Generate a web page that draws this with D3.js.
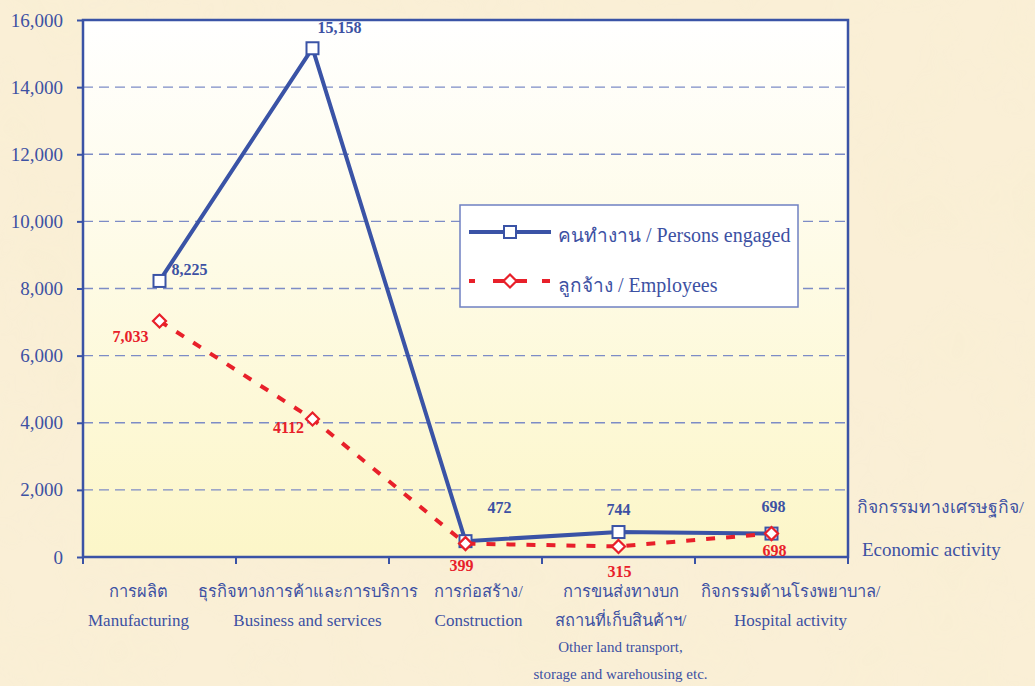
<!DOCTYPE html>
<html>
<head>
<meta charset="utf-8">
<script src="https://cdn.jsdelivr.net/npm/d3@7"></script>
<style>
  body { margin: 0; background: #f9edd3; }
  svg text { font-family: "Liberation Serif", "Times New Roman", serif; }
</style>
</head>
<body>
<div id="chart"></div>
<script>
// categories (Thai line first, then English lines)
var categories = ["Manufacturing", "Business", "Construction", "Transport", "Hospital"];
var categoryLines = [
  ["การผลิต", "Manufacturing"],
  ["ธุรกิจทางการค้าและการบริการ", "Business and services"],
  ["การก่อสร้าง/", "Construction"],
  ["การขนส่งทางบก", "สถานที่เก็บสินค้าฯ/", "Other land transport,", "storage and warehousing etc."],
  ["กิจกรรมด้านโรงพยาบาล/", "Hospital activity"]
];
var personsEngaged = [8225, 15158, 472, 744, 698];
var employees = [7033, 4112, 399, 315, 698];
var personsLabels = ["8,225", "15,158", "472", "744", "698"];
var employeesLabels = ["7,033", "4112", "399", "315", "698"];
var yTicks = [0, 2000, 4000, 6000, 8000, 10000, 12000, 14000, 16000];

// layout
var svgWidth = 1035;
var svgHeight = 686;
var margin = { top: 20, left: 83, right: 187, bottom: 129 };
var chartWidth = svgWidth - margin.left - margin.right;
var chartHeight = svgHeight - margin.top - margin.bottom;

var blue = "#3a53a6";
var red = "#e8202a";
var textBlue = "#3d51a3";
var serif = "'Liberation Serif', 'Times New Roman', serif";

// hand placed label offsets from the point
var personsOffsets = [[12, -6, "start"], [27, -15, "middle"], [34, -28, "middle"], [0, -17, "middle"], [2, -22, "middle"]];
var employeesOffsets = [[-29, 21, "middle"], [-24, 14, "middle"], [-4, 27, "middle"], [1, 31, "middle"], [3, 22, "middle"]];
var catLabelDx = [-21, -5, 13, 2, 19];

var svg = d3.select("#chart")
  .append("svg")
  .attr("width", svgWidth)
  .attr("height", svgHeight);

var defs = svg.append("defs");

// parchment texture
var filter = defs.append("filter").attr("id", "paper")
  .attr("x", 0).attr("y", 0).attr("width", "100%").attr("height", "100%");
filter.append("feTurbulence")
  .attr("type", "fractalNoise")
  .attr("baseFrequency", "0.012")
  .attr("numOctaves", 3)
  .attr("seed", 7);
filter.append("feColorMatrix")
  .attr("type", "matrix")
  .attr("values", "0 0 0 0 0.93  0 0 0 0 0.86  0 0 0 0 0.62  0 0 0 1.1 -0.45");

var grad = defs.append("linearGradient").attr("id", "plotbg")
  .attr("x1", 0).attr("y1", 0).attr("x2", 0).attr("y2", 1);
grad.append("stop").attr("offset", "0%").attr("stop-color", "#ffffff");
grad.append("stop").attr("offset", "45%").attr("stop-color", "#fefbe6");
grad.append("stop").attr("offset", "100%").attr("stop-color", "#fcf6c8");

svg.append("rect")
  .attr("width", svgWidth)
  .attr("height", svgHeight)
  .attr("fill", "#faefd6");
svg.append("rect")
  .attr("width", svgWidth)
  .attr("height", svgHeight)
  .attr("filter", "url(#paper)")
  .attr("opacity", 0.5);

var chartGroup = svg.append("g")
  .attr("transform", `translate(${margin.left}, ${margin.top})`);

// scales
var xBandScale = d3.scaleBand()
  .domain(categories)
  .range([0, chartWidth]);
var xCenter = d => xBandScale(d) + xBandScale.bandwidth() / 2;

var yLinearScale = d3.scaleLinear()
  .domain([0, 16000])
  .range([chartHeight, 0]);

// plot area
chartGroup.append("rect")
  .attr("width", chartWidth)
  .attr("height", chartHeight)
  .attr("fill", "url(#plotbg)");

// grid lines
chartGroup.selectAll(".grid")
  .data(yTicks.slice(1, -1))
  .enter().append("line")
  .attr("x1", 0)
  .attr("x2", chartWidth)
  .attr("y1", d => yLinearScale(d))
  .attr("y2", d => yLinearScale(d))
  .attr("stroke", "#7d8cc6")
  .attr("stroke-width", 1.4)
  .attr("stroke-dasharray", "10,6");

// y axis
var leftAxis = d3.axisLeft(yLinearScale)
  .tickValues(yTicks)
  .tickSize(6)
  .tickPadding(14)
  .tickFormat(d3.format(","));

var yAxisG = chartGroup.append("g").call(leftAxis)
  .attr("font-family", serif)
  .attr("font-size", 19);
yAxisG.select(".domain").remove();
yAxisG.selectAll("line").attr("stroke", blue).attr("stroke-width", 2);
yAxisG.selectAll("text")
  .attr("fill", textBlue)
  .style("font-size", "19px")
  .style("font-family", serif);

// x axis ticks at category edges
var edges = categories.map(d => xBandScale(d)).concat([chartWidth]);
chartGroup.selectAll(".xtick")
  .data(edges)
  .enter().append("line")
  .attr("x1", d => d)
  .attr("x2", d => d)
  .attr("y1", chartHeight)
  .attr("y2", chartHeight + 7)
  .attr("stroke", blue)
  .attr("stroke-width", 2);

// frame
chartGroup.append("rect")
  .attr("width", chartWidth)
  .attr("height", chartHeight)
  .attr("fill", "none")
  .attr("stroke", blue)
  .attr("stroke-width", 2.5);

// category labels
var lineY = [40, 69, 95, 122];
var twoLineSize = [16.5, 17];
var fourLineSize = [16.5, 16.5, 15, 15];
categoryLines.forEach(function(lines, i) {
  lines.forEach(function(t, j) {
    chartGroup.append("text")
      .attr("x", xCenter(categories[i]) + catLabelDx[i])
      .attr("y", chartHeight + lineY[j])
      .attr("text-anchor", "middle")
      .attr("fill", textBlue)
      .style("font-size", (lines.length > 2 ? fourLineSize[j] : twoLineSize[j]) + "px")
      .text(t);
  });
});

// axis title
chartGroup.append("text")
  .attr("x", chartWidth + 9)
  .attr("y", chartHeight - 44)
  .attr("fill", textBlue)
  .style("font-size", "17.5px")
  .text("กิจกรรมทางเศรษฐกิจ/");
chartGroup.append("text")
  .attr("x", chartWidth + 14)
  .attr("y", chartHeight - 1)
  .attr("fill", textBlue)
  .style("font-size", "19px")
  .text("Economic activity");

// lines
var drawLine = d3.line()
  .x((d, i) => xCenter(categories[i]))
  .y(d => yLinearScale(d));

chartGroup.append("path")
  .attr("d", drawLine(personsEngaged))
  .attr("fill", "none")
  .attr("stroke", blue)
  .attr("stroke-width", 4)
  .attr("stroke-linejoin", "miter");

chartGroup.selectAll(".sq")
  .data(personsEngaged)
  .enter().append("rect")
  .attr("x", (d, i) => xCenter(categories[i]) - 6)
  .attr("y", d => yLinearScale(d) - 6)
  .attr("width", 12)
  .attr("height", 12)
  .attr("fill", "white")
  .attr("stroke", blue)
  .attr("stroke-width", 2);

chartGroup.append("path")
  .attr("d", drawLine(employees))
  .attr("fill", "none")
  .attr("stroke", red)
  .attr("stroke-width", 4)
  .attr("stroke-dasharray", "9,11");

var diamond = "M0,-6.5L6.5,0L0,6.5L-6.5,0Z";
chartGroup.selectAll(".dm")
  .data(employees)
  .enter().append("path")
  .attr("d", diamond)
  .attr("transform", (d, i) => `translate(${xCenter(categories[i])}, ${yLinearScale(d)})`)
  .attr("fill", "white")
  .attr("stroke", red)
  .attr("stroke-width", 2.2);

// data labels
chartGroup.selectAll(".plab")
  .data(personsEngaged)
  .enter().append("text")
  .attr("x", (d, i) => xCenter(categories[i]) + personsOffsets[i][0])
  .attr("y", (d, i) => yLinearScale(d) + personsOffsets[i][1])
  .attr("text-anchor", (d, i) => personsOffsets[i][2])
  .attr("fill", textBlue)
  .style("font-size", "16px")
  .style("font-weight", "bold")
  .text((d, i) => personsLabels[i]);

chartGroup.selectAll(".elab")
  .data(employees)
  .enter().append("text")
  .attr("x", (d, i) => xCenter(categories[i]) + employeesOffsets[i][0])
  .attr("y", (d, i) => yLinearScale(d) + employeesOffsets[i][1])
  .attr("text-anchor", (d, i) => employeesOffsets[i][2])
  .attr("fill", red)
  .style("font-size", "16px")
  .style("font-weight", "bold")
  .text((d, i) => employeesLabels[i]);

// legend
var legend = svg.append("g").attr("transform", "translate(460, 205)");
legend.append("rect")
  .attr("width", 338)
  .attr("height", 102)
  .attr("fill", "white")
  .attr("stroke", "#6f80c2")
  .attr("stroke-width", 1.5);

legend.append("line")
  .attr("x1", 9).attr("x2", 91)
  .attr("y1", 27).attr("y2", 27)
  .attr("stroke", blue).attr("stroke-width", 4);
legend.append("rect")
  .attr("x", 44).attr("y", 21)
  .attr("width", 12).attr("height", 12)
  .attr("fill", "white").attr("stroke", blue).attr("stroke-width", 2);
var t1 = legend.append("text")
  .attr("x", 98).attr("y", 37)
  .attr("fill", textBlue)
  .style("font-size", "20px");
t1.append("tspan").style("font-size", "19px").text("คนทำงาน");
t1.append("tspan").text(" / Persons engaged");

legend.append("line")
  .attr("x1", 9).attr("x2", 91)
  .attr("y1", 76).attr("y2", 76)
  .attr("stroke", red).attr("stroke-width", 4)
  .attr("stroke-dasharray", "6,18,34,15,8,100");
legend.append("path")
  .attr("d", diamond)
  .attr("transform", "translate(50, 76)")
  .attr("fill", "white").attr("stroke", red).attr("stroke-width", 2.2);
var t2 = legend.append("text")
  .attr("x", 98).attr("y", 87)
  .attr("fill", textBlue)
  .style("font-size", "20px");
t2.append("tspan").style("font-size", "19px").text("ลูกจ้าง");
t2.append("tspan").text(" / Employees");
</script>
</body>
</html>
